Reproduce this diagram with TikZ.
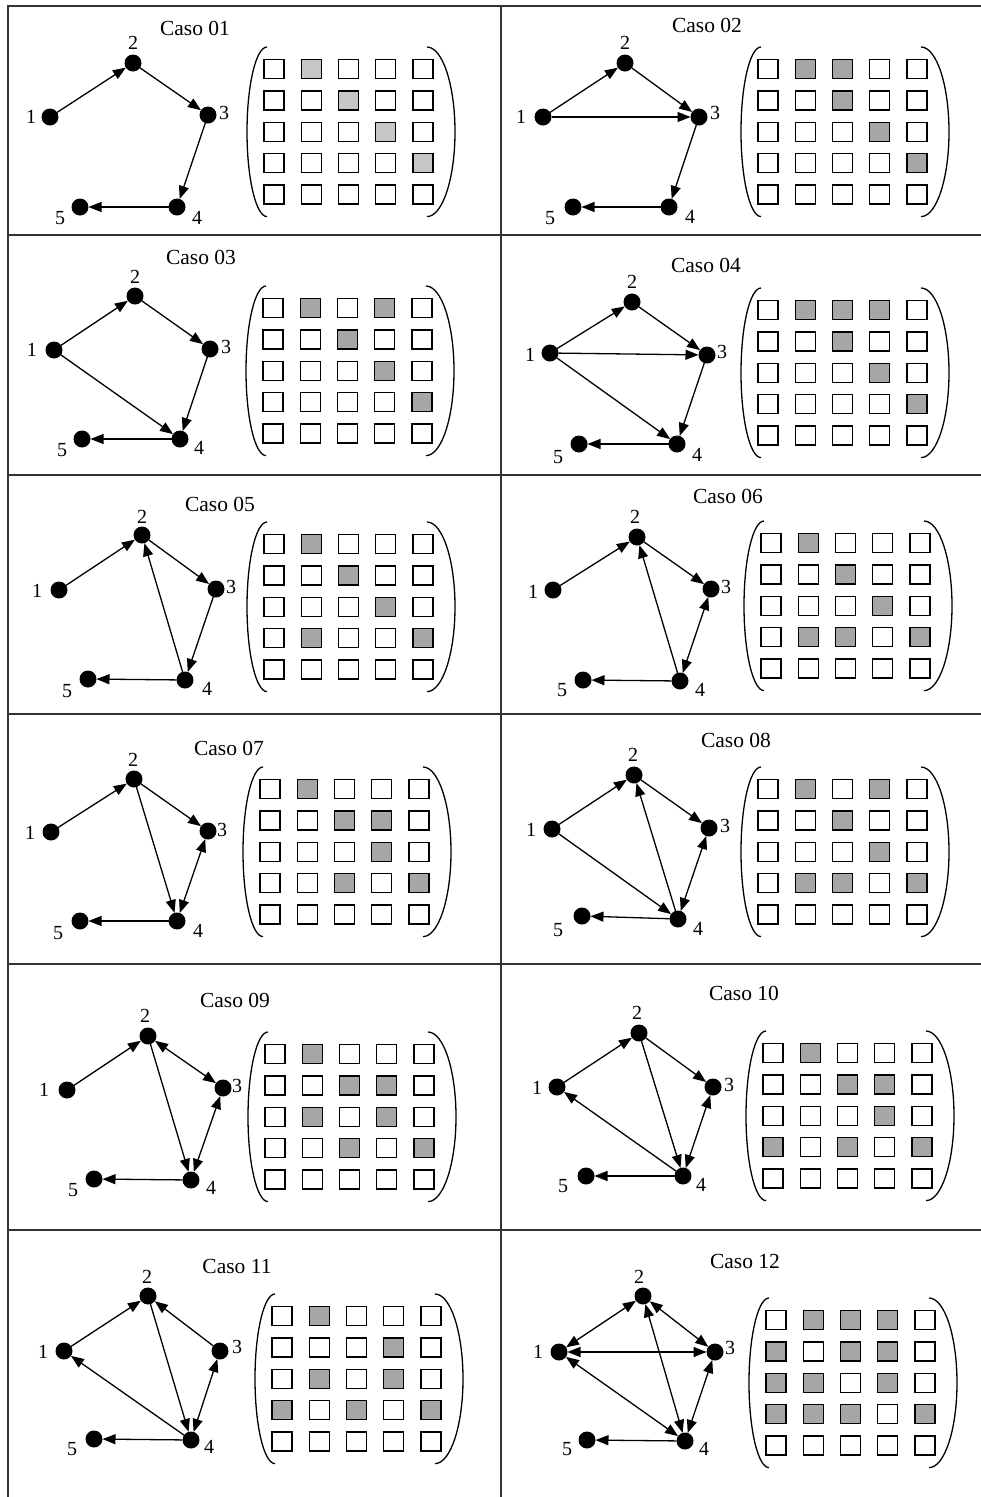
\documentclass[tikz,border=0pt]{standalone}
\usepackage{fontspec}
\setmainfont{Liberation Serif}
\usetikzlibrary{arrows.meta}
\tikzset{
  vtx/.style={circle, fill=black, inner sep=0pt, minimum size=17pt, outer sep=0pt},
  lbl/.style={inner sep=0pt, font=\fontsize{20}{22}\selectfont},
  ttl/.style={inner sep=0pt, font=\fontsize{21.5}{24}\selectfont},
  arr/.style={line width=1.3pt, -{Triangle[length=13pt,width=10pt]}},
  barr/.style={line width=1.3pt, {Triangle[length=13pt,width=10pt]}-{Triangle[length=13pt,width=10pt]}},
  sq/.style={draw=black, line width=1.4pt, fill=white, minimum width=20pt, minimum height=19pt, inner sep=0pt, outer sep=0pt},
  paren/.style={line width=1.3pt},
  rule/.style={line width=2pt, draw=black!80},
}
\colorlet{lightsq}{gray!45}
\colorlet{darksq}{gray!70}

\newcommand\mymat[5]{%
  \foreach \r in {1,...,5}{\foreach \c in {1,...,5}{
    \node[sq] (#1-\r-\c) at ({#2+(\c-1)*37.25},{#3+(\r-1)*31.4}) {};}}
  \foreach \r/\c in {#5}{\path[fill=#4,draw=black,line width=1.4pt] (#1-\r-\c.south west) rectangle (#1-\r-\c.north east);}
  \draw[paren] ({#2-7},{#3-22}) .. controls ({#2-18},{#3-22}) and ({#2-27},{#3+16}) .. ({#2-27},{#3+62.8})
     .. controls ({#2-27},{#3+109.6}) and ({#2-18},{#3+147.6}) .. ({#2-7},{#3+147.6});
  \draw[paren] ({#2+153},{#3-22}) .. controls ({#2+168.5},{#3-22}) and ({#2+181},{#3+16}) .. ({#2+181},{#3+62.8})
     .. controls ({#2+181},{#3+109.6}) and ({#2+168.5},{#3+147.6}) .. ({#2+153},{#3+147.6});
}
\newcommand\mygraph[2]{%
  \foreach \n/\x/\y/\lx/\ly in {#2}{
    \node[vtx] (#1\n) at (\x,\y) {};
    \node[lbl] (#1\n l) at (\lx,\ly) {\n};}
}

\begin{document}
\begin{tikzpicture}[x=1pt,y=-1pt]
\useasboundingbox[fill=white] (0,0) rectangle (981,1497);

% table rules
\draw[rule] (8,1497) -- (8,6) -- (981,6);
\draw[rule] (501,6) -- (501,1497);
\foreach \yy in {235,475,714,964,1230}{\draw[rule] (8,\yy) -- (981,\yy);}

% ---------------- Caso 01
\node[ttl] (ta) at (195,28) {Caso 01};
\mygraph{a}{1/50/117/31/117, 2/133/63/133/43, 3/208/115/224/113, 4/177/207/197/218, 5/80/207/60/218}
\draw[arr] (a1) -- (a2); \draw[arr] (a2) -- (a3); \draw[arr] (a3) -- (a4); \draw[arr] (a4) -- (a5);
\mymat{ma}{274}{69}{lightsq}{1/2,2/3,3/4,4/5}

% ---------------- Caso 02
\node[ttl] (tb) at (707,25) {Caso 02};
\mygraph{b}{1/543/117/521/117, 2/625/63/625/43, 3/699/117/715/113, 4/669/207/690/217, 5/573/207/550/218}
\draw[arr] (b1) -- (b2); \draw[arr] (b1) -- (b3); \draw[arr] (b2) -- (b3); \draw[arr] (b3) -- (b4); \draw[arr] (b4) -- (b5);
\mymat{mb}{768}{69}{darksq}{1/2,1/3,2/3,3/4,4/5}

% ---------------- Caso 03
\node[ttl] (tc) at (201,257) {Caso 03};
\mygraph{c}{1/54/350/32/350, 2/135/296/135/277, 3/210/349/226/347, 4/180/439/199/448, 5/82/439/62/450}
\draw[arr] (c1) -- (c2); \draw[arr] (c1) -- (c4); \draw[arr] (c2) -- (c3); \draw[arr] (c3) -- (c4); \draw[arr] (c4) -- (c5);
\mymat{mc}{273}{308}{darksq}{1/2,1/4,2/3,3/4,4/5}

% ---------------- Caso 04
\node[ttl] (td) at (706,265) {Caso 04};
\mygraph{d}{1/550/353/530/355, 2/632/302/632/282, 3/707/355/722/352, 4/677/444/697/455, 5/579/444/558/457}
\draw[arr] (d1) -- (d2); \draw[arr] (d1) -- (d3); \draw[arr] (d1) -- (d4); \draw[arr] (d2) -- (d3); \draw[arr] (d3) -- (d4); \draw[arr] (d4) -- (d5);
\mymat{md}{768}{310}{darksq}{1/2,1/3,1/4,2/3,3/4,4/5}

% ---------------- Caso 05
\node[ttl] (te) at (220,504) {Caso 05};
\mygraph{e}{1/59/590/37/591, 2/142/535/142/517, 3/216/589/231/587, 4/185/680/207/689, 5/88/679/67/691}
\draw[arr] (e1) -- (e2); \draw[arr] (e2) -- (e3); \draw[arr] (e3) -- (e4); \draw[arr] (e4) -- (e2); \draw[arr] (e4) -- (e5);
\mymat{me}{274}{544}{darksq}{1/2,2/3,3/4,4/2,4/5}

% ---------------- Caso 06
\node[ttl] (tf) at (728,496) {Caso 06};
\mygraph{f}{1/553/590/533/592, 2/637/537/635/517, 3/711/589/726/587, 4/680/681/700/690, 5/583/680/562/690}
\draw[arr] (f1) -- (f2); \draw[arr] (f2) -- (f3); \draw[barr] (f3) -- (f4); \draw[arr] (f4) -- (f2); \draw[arr] (f4) -- (f5);
\mymat{mf}{771}{543}{darksq}{1/2,2/3,3/4,4/2,4/3,4/5}

% ---------------- Caso 07
\node[ttl] (tg) at (229,748) {Caso 07};
\mygraph{g}{1/51/832/30/833, 2/134/779/133/760, 3/208/831/222/830, 4/177/921/198/931, 5/80/921/58/933}
\draw[arr] (g1) -- (g2); \draw[arr] (g2) -- (g3); \draw[arr] (g2) -- (g4); \draw[barr] (g3) -- (g4); \draw[arr] (g4) -- (g5);
\mymat{mg}{270}{789}{darksq}{1/2,2/3,2/4,3/4,4/3,4/5}

% ---------------- Caso 08
\node[ttl] (th) at (736,740) {Caso 08};
\mygraph{h}{1/552/829/531/830, 2/634/775/633/755, 3/709/828/725/826, 4/678/919/698/929, 5/582/916/558/930}
\draw[arr] (h1) -- (h2); \draw[arr] (h1) -- (h4); \draw[arr] (h2) -- (h3); \draw[barr] (h3) -- (h4); \draw[arr] (h4) -- (h2); \draw[arr] (h4) -- (h5);
\mymat{mh}{768}{789}{darksq}{1/2,1/4,2/3,3/4,4/2,4/3,4/5}

% ---------------- Caso 09
\node[ttl] (ti) at (235,1000) {Caso 09};
\mygraph{i}{1/67/1090/44/1090, 2/148/1036/145/1016, 3/223/1088/237/1086, 4/191/1180/211/1188, 5/94/1179/73/1190}
\draw[arr] (i1) -- (i2); \draw[barr] (i2) -- (i3); \draw[arr] (i2) -- (i4); \draw[barr] (i3) -- (i4); \draw[arr] (i4) -- (i5);
\mymat{mi}{275}{1054}{darksq}{1/2,2/3,2/4,3/2,3/4,4/3,4/5}

% ---------------- Caso 10
\node[ttl] (tj) at (744,993) {Caso 10};
\mygraph{j}{1/557/1087/537/1088, 2/639/1033/637/1013, 3/713/1087/729/1085, 4/683/1176/701/1185, 5/586/1176/563/1186}
\draw[arr] (j1) -- (j2); \draw[arr] (j2) -- (j3); \draw[arr] (j2) -- (j4); \draw[barr] (j3) -- (j4); \draw[arr] (j4) -- (j1); \draw[arr] (j4) -- (j5);
\mymat{mj}{773}{1053}{darksq}{1/2,2/3,2/4,3/4,4/1,4/3,4/5}

% ---------------- Caso 11
\node[ttl] (tk) at (237,1266) {Caso 11};
\mygraph{k}{1/64/1351/43/1352, 2/148/1296/147/1277, 3/220/1351/237/1347, 4/191/1440/209/1447, 5/94/1439/72/1449}
\draw[arr] (k1) -- (k2); \draw[arr] (k2) -- (k4); \draw[arr] (k3) -- (k2); \draw[barr] (k3) -- (k4); \draw[arr] (k4) -- (k1); \draw[arr] (k4) -- (k5);
\mymat{mk}{282}{1316}{darksq}{1/2,2/4,3/2,3/4,4/1,4/3,4/5}

% ---------------- Caso 12
\node[ttl] (tl) at (745,1261) {Caso 12};
\mygraph{l}{1/559/1352/538/1352, 2/643/1296/639/1277, 3/715/1352/730/1348, 4/685/1441/704/1449, 5/587/1440/567/1449}
\draw[barr] (l1) -- (l2); \draw[barr] (l1) -- (l3); \draw[barr] (l1) -- (l4); \draw[barr] (l2) -- (l3); \draw[barr] (l2) -- (l4); \draw[barr] (l3) -- (l4); \draw[arr] (l4) -- (l5);
\mymat{ml}{776}{1320}{darksq}{1/2,1/3,1/4,2/1,2/3,2/4,3/1,3/2,3/4,4/1,4/2,4/3,4/5}
\end{tikzpicture}
\end{document}
